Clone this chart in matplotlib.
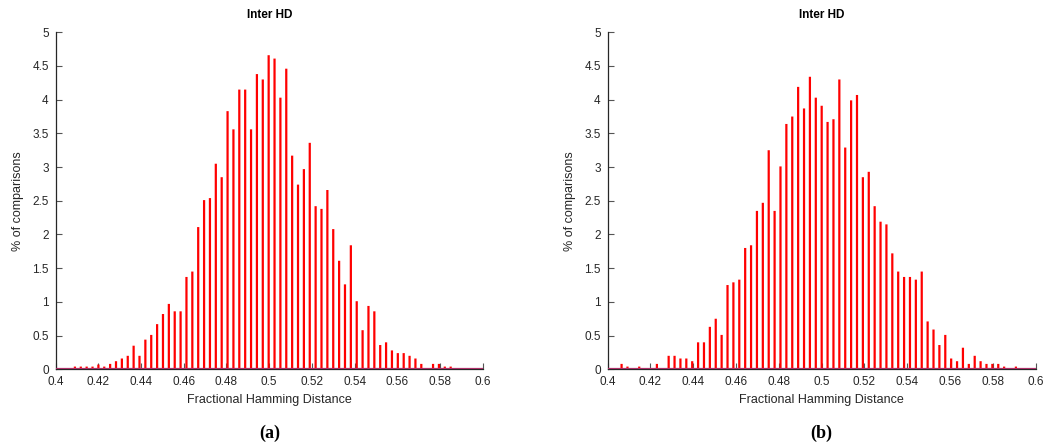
import numpy as np
import matplotlib
matplotlib.use('Agg')
import matplotlib.pyplot as plt

plt.rcParams['font.family'] = ['Liberation Sans', 'DejaVu Sans']

# histogram (a): % of comparisons per FHD bin
start_a = 0.4090
vals_a = [0.04, 0.04, 0.04, 0.04, 0.07, 0.04, 0.08, 0.12, 0.16, 0.20,
          0.35, 0.20, 0.44, 0.51, 0.67, 0.82, 0.97, 0.86, 0.86, 1.37,
          1.45, 2.11, 2.51, 2.54, 3.05, 2.85, 3.83, 3.56, 4.15, 4.15,
          3.56, 4.38, 4.30, 4.66, 4.61, 4.03, 4.46, 3.17, 2.74, 2.97,
          3.36, 2.42, 2.38, 2.66, 2.08, 1.61, 1.26, 1.84, 1.01, 0.58,
          0.94, 0.86, 0.36, 0.40, 0.28, 0.24, 0.24, 0.20, 0.16, 0.08,
          0.0, 0.08, 0.08, 0.04, 0.04]

# histogram (b)
start_b = 0.4065
vals_b = [0.08, 0.04, 0.0, 0.04, 0.0, 0.0, 0.08, 0.0, 0.20, 0.20,
          0.16, 0.16, 0.12, 0.40, 0.40, 0.63, 0.75, 0.51, 1.25, 1.29,
          1.33, 1.80, 1.84, 2.35, 2.47, 3.25, 2.35, 3.01, 3.64, 3.75,
          4.19, 3.87, 4.34, 4.03, 3.91, 3.67, 3.71, 4.30, 3.29, 3.99,
          4.07, 2.85, 2.93, 2.42, 2.19, 2.15, 1.72, 1.45, 1.37, 1.37,
          1.33, 1.45, 0.71, 0.59, 0.36, 0.51, 0.16, 0.12, 0.32, 0.08,
          0.20, 0.12, 0.08, 0.08, 0.08, 0.04, 0.0, 0.04]

bin_step = 0.00275
xticks = [0.4, 0.42, 0.44, 0.46, 0.48, 0.5, 0.52, 0.54, 0.56, 0.58, 0.6]
xtick_labels = ['0.4', '0.42', '0.44', '0.46', '0.48', '0.5', '0.52', '0.54', '0.56', '0.58', '0.6']
yticks = [0, 0.5, 1, 1.5, 2, 2.5, 3, 3.5, 4, 4.5, 5]
ytick_labels = ['0', '0.5', '1', '1.5', '2', '2.5', '3', '3.5', '4', '4.5', '5']


def draw_hist(ax, start, vals):
    x = start + bin_step * np.arange(len(vals))
    ax.vlines(x, 0, vals, colors='#ff0000', linewidth=1.6, zorder=2, snap=False)
    ax.axhline(0, color='#b0306a', lw=1.6, zorder=3)
    ax.set_xlim(0.4, 0.6)
    ax.set_ylim(0, 5)
    ax.set_xticks(xticks)
    ax.set_xticklabels(xtick_labels)
    ax.set_yticks(yticks)
    ax.set_yticklabels(ytick_labels)
    ax.tick_params(direction='in', length=4, width=0.8, color='#555555',
                   labelsize=8.5, labelcolor='#262626', pad=5)
    for s in ['top', 'right']:
        ax.spines[s].set_visible(False)
    for s in ['left', 'bottom']:
        ax.spines[s].set_color('#262626')
        ax.spines[s].set_linewidth(0.9)
    ax.set_title('Inter HD', fontsize=8.5, fontweight='bold', pad=10)
    ax.set_xlabel('Fractional Hamming Distance', fontsize=9, color='#262626', labelpad=4)
    ax.set_ylabel('% of comparisons', fontsize=9, color='#262626', labelpad=6)


fig = plt.figure(figsize=(10.45, 4.46), dpi=100)
ax1 = fig.add_axes([0.0533, 0.172, 0.4086, 0.7556])
ax2 = fig.add_axes([0.5815, 0.172, 0.4096, 0.7556])
draw_hist(ax1, start_a, vals_a)
draw_hist(ax2, start_b, vals_b)

fig.text(0.2585, 0.018, '(a)', ha='center', fontsize=13, fontweight='bold',
         family=['Liberation Serif', 'DejaVu Serif'])
fig.text(0.786, 0.018, '(b)', ha='center', fontsize=13, fontweight='bold',
         family=['Liberation Serif', 'DejaVu Serif'])

fig.savefig('out.png', dpi=100)
